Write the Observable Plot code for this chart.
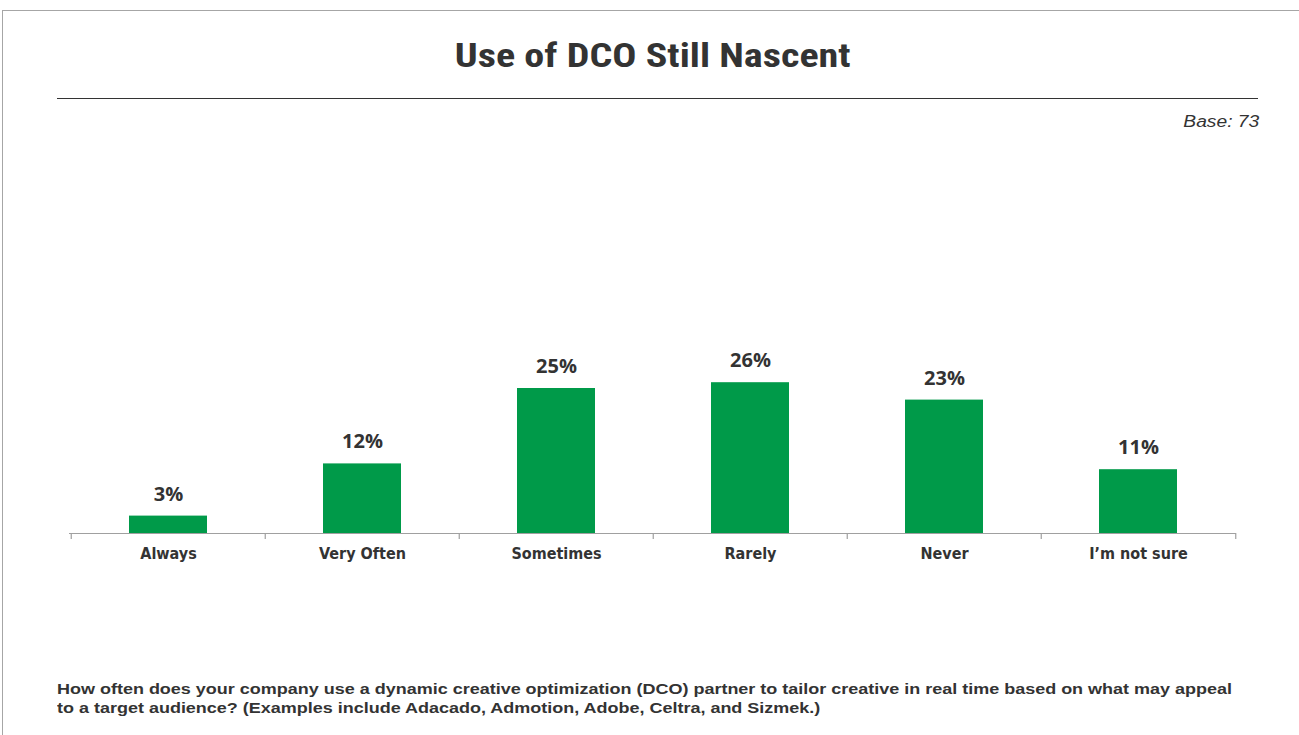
<!DOCTYPE html>
<html>
<head>
<meta charset="utf-8">
<script src="https://cdn.jsdelivr.net/npm/d3@7"></script>
<script src="https://cdn.jsdelivr.net/npm/@observablehq/plot@0.6"></script>
<style>
  html, body { margin: 0; padding: 0; background: #fff; }
  #page { position: relative; width: 1299px; height: 735px; overflow: hidden; }
  #frame { position: absolute; left: 2px; top: 10px; width: 1400px; height: 800px; border-left: 1px solid #a6a6a6; border-top: 1px solid #a6a6a6; }
  #title { position: absolute; left: 0; width: 1306px; top: 35px; text-align: center;
           font-family: "Roboto Condensed", "Liberation Sans Narrow", sans-serif;
           font-weight: bold; font-size: 34px; line-height: 40px; color: #333; }
  #title span { display: inline-block; transform: scaleX(1.18); }
  #rule { position: absolute; left: 57px; width: 1201px; top: 98px; height: 0; border-top: 1.5px solid #333; }
  #base { position: absolute; right: 40px; top: 113px; font-family: "Liberation Sans", Arial, sans-serif;
          font-style: italic; font-size: 16px; color: #333; transform: scaleX(1.2); transform-origin: right center; }
  #chart { position: absolute; left: 0; top: 130px; }
  #note { position: absolute; left: 57px; top: 679px; width: 1020px; font-family: "Liberation Sans", Arial, sans-serif;
          font-weight: bold; font-size: 15.5px; line-height: 19px; color: #333;
          transform: scaleX(1.16); transform-origin: left top; }
</style>
</head>
<body>
<div id="page">
  <div id="frame"></div>
  <div id="title"><span>Use of DCO Still Nascent</span></div>
  <div id="rule"></div>
  <div id="base">Base: 73</div>
  <div id="chart"></div>
  <div id="note">How often does your company use a dynamic creative optimization (DCO) partner to tailor creative in real time based on what may appeal to a target audience? (Examples include Adacado, Admotion, Adobe, Celtra, and Sizmek.)</div>
</div>
<script>
// Survey answers and share of respondents (%)
const categories = ["Always", "Very Often", "Sometimes", "Rarely", "Never", "I\u2019m not sure"];
const shares = [3, 12, 25, 26, 23, 11];

const rows = categories.map((c, i) => ({category: c, share: shares[i]}));

const W = 1299, H = 480;
const ml = 69, mr = 63;
const step = (W - ml - mr) / categories.length;
const grey = "#a0a0a0";

const chart = Plot.plot({
  width: W,
  height: H,
  marginLeft: ml,
  marginRight: mr,
  marginTop: 229,
  marginBottom: 77,
  style: {fontFamily: "'DejaVu Sans Condensed', 'DejaVu Sans', sans-serif", background: "transparent"},
  x: {domain: categories, paddingInner: 0.6, paddingOuter: 0.3, label: null},
  y: {domain: [0, 30], axis: null},
  marks: [
    Plot.barY(rows, {x: "category", y: "share", fill: "#009a49"}),
    // baseline
    Plot.ruleY([0], {stroke: grey, strokeWidth: 1.2}),
    // separator ticks at the band edges
    Plot.ruleX(categories, {x: d => d, y1: 0, y2: 0, dx: -step / 2, insetBottom: -6, stroke: grey, strokeWidth: 1.2}),
    Plot.ruleX(categories.slice(-1), {x: d => d, y1: 0, y2: 0, dx: step / 2, insetBottom: -6, stroke: grey, strokeWidth: 1.2}),
    // value labels
    Plot.text(rows, {x: "category", y: "share", text: d => d.share + "%", dy: -22,
      fontFamily: "'Open Sans', 'Liberation Sans', sans-serif", fontWeight: "bold", fontSize: 20,
      fill: "#333", style: "letter-spacing:1.3px"}),
    Plot.axisX({tickSize: 0, tickPadding: 14, fontSize: 16, fontWeight: "bold", fill: "#333", label: null})
  ]
});
chart.querySelectorAll("[aria-label='x-axis tick label'] text").forEach(t => t.setAttribute("font-weight", "bold"));
document.getElementById("chart").appendChild(chart);
</script>
</body>
</html>
